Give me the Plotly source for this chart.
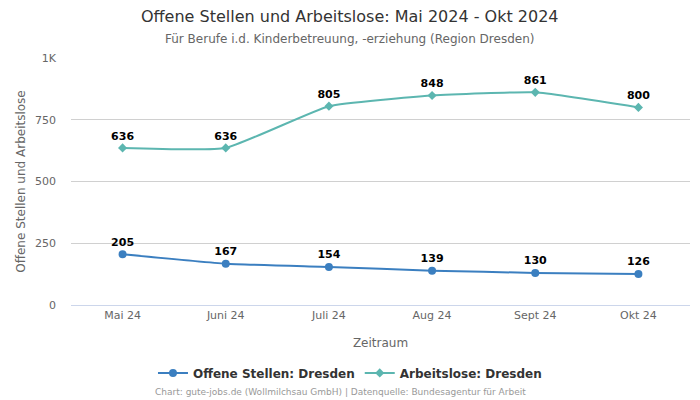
import plotly.graph_objects as go

months = ["Mai 24", "Juni 24", "Juli 24", "Aug 24", "Sept 24", "Okt 24"]
offene = [205, 167, 154, 139, 130, 126]
arbeitslose = [636, 636, 805, 848, 861, 800]
y_ticks = [0, 250, 500, 750, 1000]
y_tick_labels = ["0", "250", "500", "750", "1K"]

blue = "#3b7fc0"
teal = "#5cb6b0"

fig = go.Figure()
fig.add_trace(go.Scatter(
    x=months, y=offene, name="Offene Stellen: Dresden",
    mode="lines+markers+text", line=dict(color=blue, width=2, shape="spline", smoothing=0.4),
    marker=dict(symbol="circle", size=8, color=blue),
    text=[str(v) for v in offene], textposition="top center",
    textfont=dict(size=11, color="#000000", family="DejaVu Sans", weight="bold"),
))
fig.add_trace(go.Scatter(
    x=months, y=arbeitslose, name="Arbeitslose: Dresden",
    mode="lines+markers+text", line=dict(color=teal, width=2, shape="spline", smoothing=0.4),
    marker=dict(symbol="diamond", size=7, color=teal),
    text=[str(v) for v in arbeitslose], textposition="top center",
    textfont=dict(size=11, color="#000000", family="DejaVu Sans", weight="bold"),
))

fig.update_layout(
    width=700, height=400,
    margin=dict(l=71, r=10, t=58, b=95, autoexpand=False),
    paper_bgcolor="white", plot_bgcolor="white",
    font=dict(family="DejaVu Sans", color="#666666", size=11),
    xaxis=dict(
        title=dict(text="Zeitraum", font=dict(size=12, color="#666666"), standoff=17),
        range=[-0.5, 5.5], showgrid=False, showline=True, linecolor="#ccd6eb",
        ticks="", tickfont=dict(size=11, color="#666666"), automargin=False,
    ),
    yaxis=dict(
        title=dict(text="Offene Stellen und Arbeitslose", font=dict(size=12, color="#666666"), standoff=6),
        range=[0, 1000], tickvals=y_ticks, ticktext=y_tick_labels,
        showgrid=True, gridcolor="#d0d0d0", zeroline=False,
        tickfont=dict(size=11, color="#666666"), ticklabelstandoff=14, automargin=False,
    ),
    legend=dict(
        orientation="h", x=0.4507, xanchor="center", y=-0.275, yanchor="middle",
        font=dict(size=12, color="#333333", weight="bold"),
    ),
    showlegend=True,
)
fig.add_annotation(
    text="Offene Stellen und Arbeitslose: Mai 2024 - Okt 2024",
    xref="paper", yref="paper", x=0.4507, y=1.166, xanchor="center", yanchor="middle",
    showarrow=False, font=dict(size=16, color="#333333"),
)
fig.add_annotation(
    text="Für Berufe i.d. Kinderbetreuung, -erziehung (Region Dresden)",
    xref="paper", yref="paper", x=0.4507, y=1.077, xanchor="center", yanchor="middle",
    showarrow=False, font=dict(size=12, color="#666666"),
)
fig.add_annotation(
    text="Chart: gute-jobs.de (Wollmilchsau GmbH) | Datenquelle: Bundesagentur für Arbeit",
    xref="paper", yref="paper", x=0.4346, y=-0.352, xanchor="center", yanchor="middle",
    showarrow=False, font=dict(size=9, color="#999999"),
)

fig.write_html("out.html", config={"displayModeBar": False})
# Remove the default 8px page margin so the figure sits at the window origin
with open("out.html", "r", encoding="utf-8") as f:
    html = f.read()
html = html.replace("<head>", "<head><style>html,body{margin:0;padding:0;overflow:hidden;}</style>", 1)
with open("out.html", "w", encoding="utf-8") as f:
    f.write(html)
